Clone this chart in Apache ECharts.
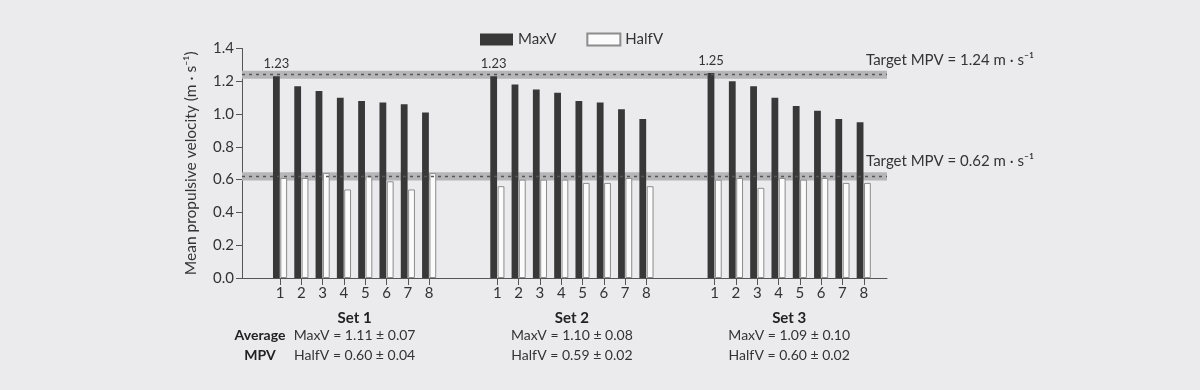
<!DOCTYPE html>
<html><head><meta charset="utf-8">
<script src="https://cdn.jsdelivr.net/npm/echarts@6/dist/echarts.min.js"></script>
<style>html,body{margin:0;padding:0;background:#ebebed}#c{width:1200px;height:390px}</style>
</head><body><div id="c"></div>
<script>
const reps = ['1','2','3','4','5','6','7','8'];
const setNames = ['Set 1','Set 2','Set 3'];
const maxVSet1 = [1.23,1.17,1.14,1.10,1.08,1.07,1.06,1.01];
const maxVSet2 = [1.23,1.18,1.15,1.13,1.08,1.07,1.03,0.97];
const maxVSet3 = [1.25,1.20,1.17,1.10,1.05,1.02,0.97,0.95];
const halfVSet1 = [0.61,0.61,0.64,0.54,0.62,0.59,0.54,0.64];
const halfVSet2 = [0.56,0.60,0.60,0.60,0.58,0.58,0.61,0.56];
const halfVSet3 = [0.60,0.61,0.55,0.61,0.60,0.61,0.58,0.58];
const targetValues = [1.24, 0.62];
const targetBand = 0.025;
const avgMaxVMean = ['1.11','1.10','1.09'];
const avgMaxVSD = ['0.07','0.08','0.10'];
const avgHalfVMean = ['0.60','0.59','0.60'];
const avgHalfVSD = ['0.04','0.02','0.02'];
const yTickFormat = v => v.toFixed(1);

const FONT = 'Lato';
const FS = 15;
const maxSets = [maxVSet1, maxVSet2, maxVSet3];
const halfSets = [halfVSet1, halfVSet2, halfVSet3];
const chart = echarts.init(document.getElementById('c'), null, {renderer:'canvas'});

const TOP = 48.5, H = 229.5;
const gridLefts = [269.4, 486.7, 704];
const grids = [{left:242, right:313, top:TOP, height:H}];
const xAxes = [{gridIndex:0, type:'value', min:0, max:1,
  axisLine:{show:true, onZero:false, lineStyle:{color:'#555', width:1}},
  axisTick:{show:false}, axisLabel:{show:false}, splitLine:{show:false}}];
const yAxes = [{gridIndex:0, type:'value', min:0, max:1.4, interval:0.2,
  axisLine:{show:true, lineStyle:{color:'#555', width:1}},
  axisTick:{show:true, length:6, lineStyle:{color:'#555'}},
  axisLabel:{formatter:yTickFormat, fontSize:FS, color:'#333', margin:8, fontFamily:FONT},
  splitLine:{show:false},
  name:'Mean propulsive velocity (m · s⁻¹)', nameLocation:'middle', nameGap:43, nameRotate:90,
  nameTextStyle:{fontSize:15.5, color:'#333', fontFamily:FONT}}];
const series = [{
  type:'line', xAxisIndex:0, yAxisIndex:0, data:[], z:1, silent:true,
  markArea:{silent:true, itemStyle:{color:'#b6b6b8'},
    data: targetValues.map(t => [{yAxis:t-targetBand},{yAxis:t+targetBand}])},
  markLine:{silent:true, symbol:'none', label:{show:false},
    lineStyle:{color:'#555', type:[3,4], width:1.3},
    data: targetValues.map(t => ({yAxis:t}))}
}];
setNames.forEach((sn, i) => {
  const gi = i + 1;
  grids.push({left:gridLefts[i], width:170.4, top:TOP, height:H});
  xAxes.push({gridIndex:gi, type:'category', data:reps,
    axisLine:{show:false},
    axisTick:{show:true, alignWithLabel:true, length:7, lineStyle:{color:'#555'}},
    axisLabel:{fontSize:FS, color:'#333', margin:8, fontFamily:FONT},
    name:sn, nameLocation:'middle', nameGap:33,
    nameTextStyle:{fontWeight:'bold', fontSize:FS, color:'#222', fontFamily:FONT}});
  yAxes.push({gridIndex:gi, type:'value', min:0, max:1.4, show:false});
  series.push({type:'bar', name:'MaxV', xAxisIndex:gi, yAxisIndex:gi, z:3,
    barWidth:6.8, barGap:'8%',
    itemStyle:{color:'#383838'},
    label:{show:false, position:'top', distance:6, fontSize:13, color:'#333', fontFamily:FONT,
      formatter: p => p.value.toFixed(2)},
    data: maxSets[i].map((v, k) => k === 0 ? {value:v, label:{show:true}} : v)});
  series.push({type:'bar', name:'HalfV', xAxisIndex:gi, yAxisIndex:gi, z:3,
    barWidth:6.8, barGap:'8%',
    itemStyle:{color:'#fbfbfb', borderColor:'#8c8c8c', borderWidth:1},
    data: halfSets[i]});
});

chart.setOption({
  backgroundColor:'#ebebed',
  animation:false,
  textStyle:{fontFamily:FONT},
  legend:{left:475, top:27, itemWidth:33, itemHeight:12, itemGap:30, icon:'rect',
    textStyle:{fontSize:FS, color:'#333', fontFamily:FONT}, data:['MaxV','HalfV']},
  grid:grids, xAxis:xAxes, yAxis:yAxes, series:series
});

const SFS = 14;
const graphics = [];
targetValues.forEach(t => {
  const y = chart.convertToPixel({gridIndex:0}, [0, t])[1];
  graphics.push({type:'text', x:866, y:y-15,
    style:{text:'Target MPV = ' + t.toFixed(2) + ' m · s⁻¹', fontSize:FS, fill:'#333', fontFamily:FONT, align:'left', verticalAlign:'middle'}});
});
setNames.forEach((sn, i) => {
  const x1 = chart.convertToPixel({xAxisIndex:i+1}, reps[0]);
  const x8 = chart.convertToPixel({xAxisIndex:i+1}, reps[reps.length-1]);
  const cx = (x1 + x8) / 2;
  graphics.push({type:'text', x:cx, y:335,
    style:{text:'MaxV = ' + avgMaxVMean[i] + ' ± ' + avgMaxVSD[i], fontSize:SFS, fill:'#333', fontFamily:FONT, align:'center', verticalAlign:'middle'}});
  graphics.push({type:'text', x:cx, y:355,
    style:{text:'HalfV = ' + avgHalfVMean[i] + ' ± ' + avgHalfVSD[i], fontSize:SFS, fill:'#333', fontFamily:FONT, align:'center', verticalAlign:'middle'}});
});
graphics.push({type:'text', x:260, y:335, style:{text:'Average', fontSize:SFS, fontWeight:'bold', fill:'#222', fontFamily:FONT, align:'center', verticalAlign:'middle'}});
graphics.push({type:'text', x:260, y:355, style:{text:'MPV', fontSize:SFS, fontWeight:'bold', fill:'#222', fontFamily:FONT, align:'center', verticalAlign:'middle'}});
chart.setOption({graphic:graphics});
</script></body></html>
